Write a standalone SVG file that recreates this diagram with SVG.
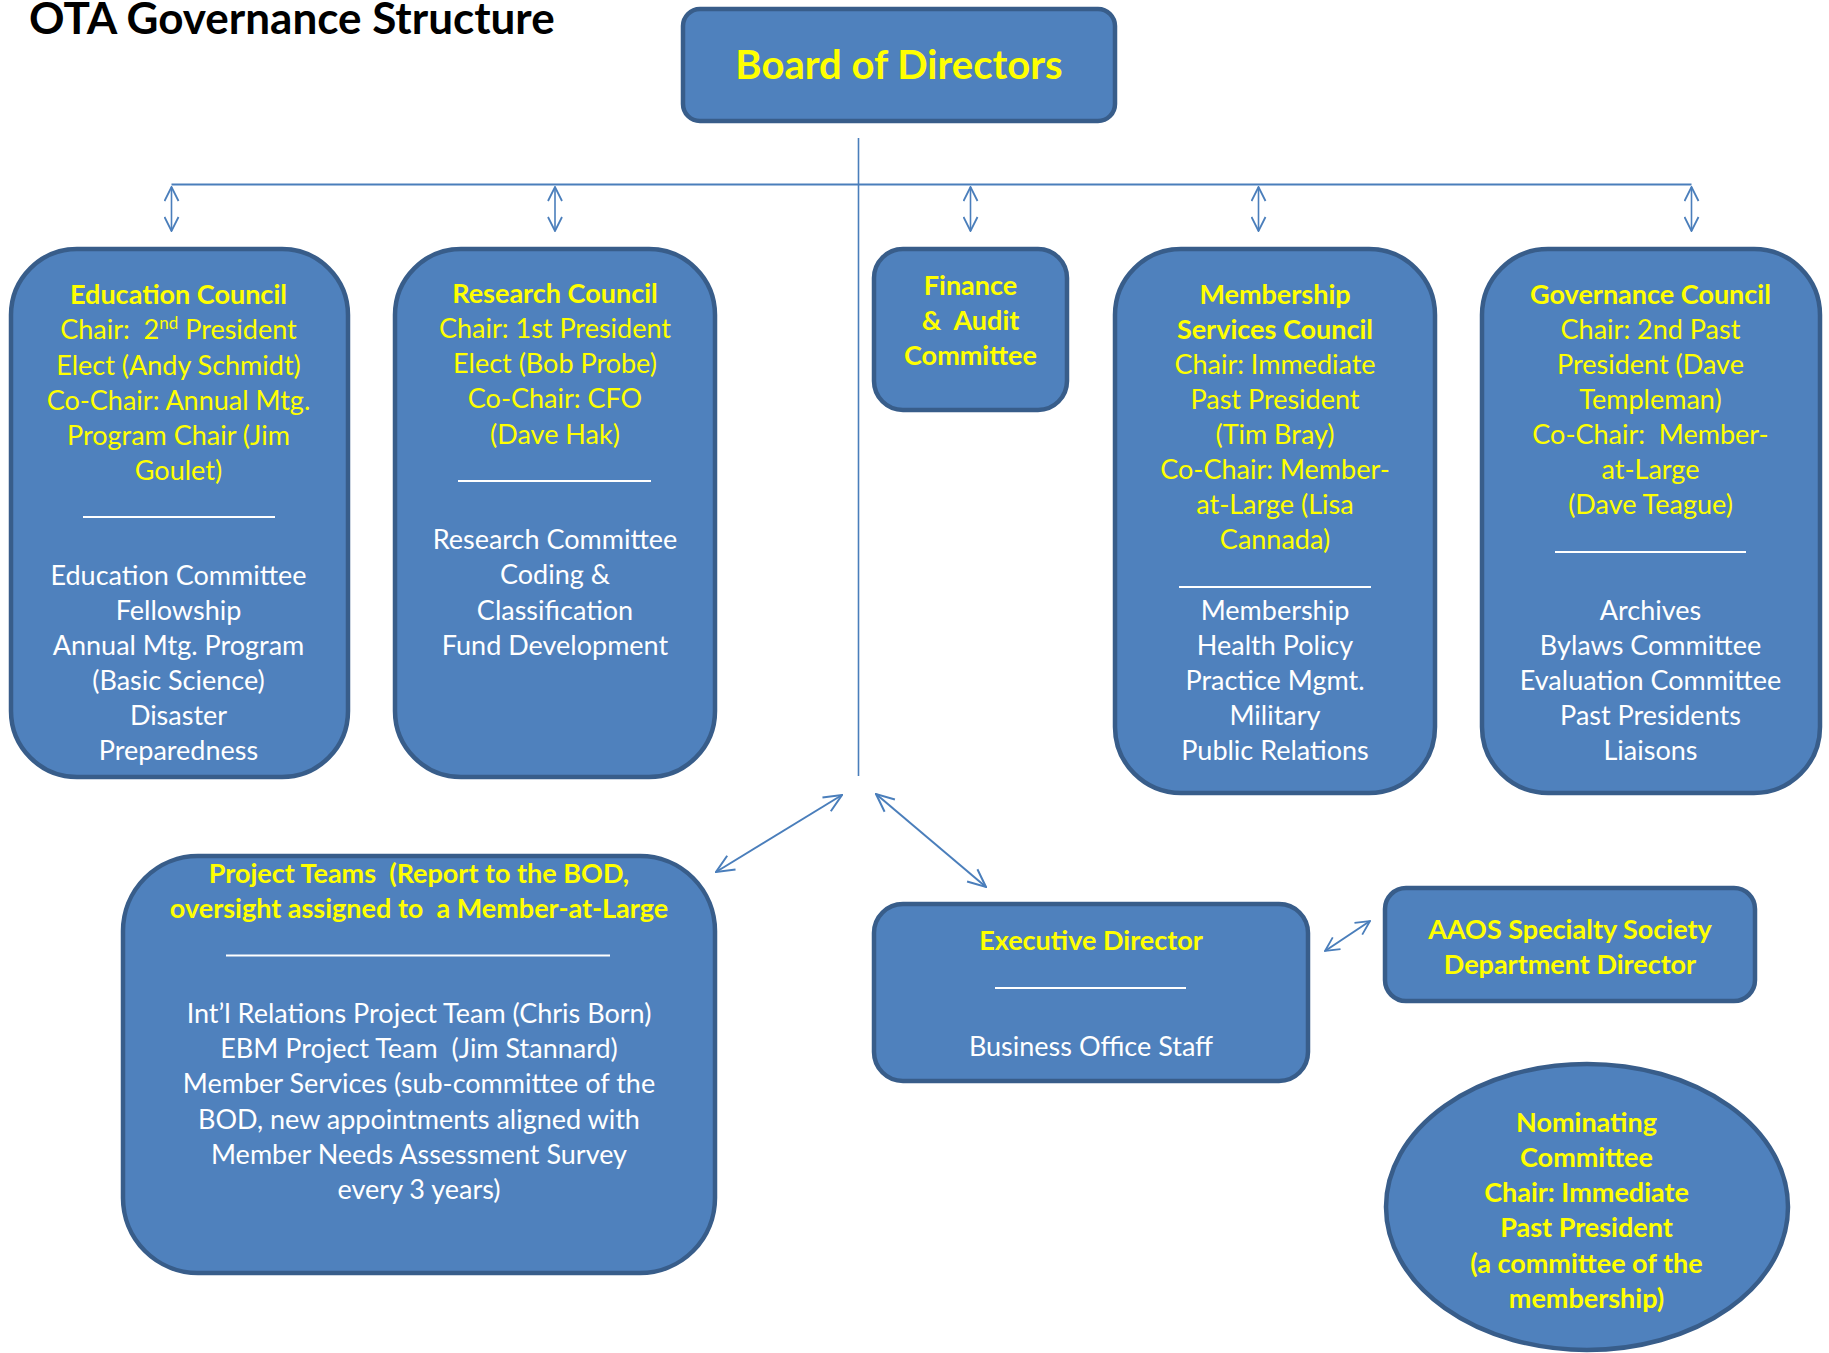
<svg xmlns="http://www.w3.org/2000/svg" width="1829" height="1353" viewBox="0 0 1829 1353">
<style>
.box{fill:#4F81BD;stroke:#385D8A;stroke-width:4.5}
.t{font-family:Lato,"Open Sans","Liberation Sans",sans-serif;font-size:27px;text-anchor:middle;white-space:pre}
.big{font-size:40px}
.yb{fill:#FFFF00;font-weight:bold}
.y{fill:#FFFF00}
.w{fill:#FFFFFF}
.div{stroke:#FFFFFF;stroke-width:2}
.con{stroke:#4A7EBB;fill:none}
</style>
<defs>
<marker id="ah" viewBox="0 0 16 16" refX="15" refY="8" markerWidth="16" markerHeight="16" markerUnits="userSpaceOnUse" orient="auto-start-reverse">
<path d="M1,1 L15,8 L1,15" fill="none" stroke="#4A7EBB" stroke-width="1.8"/>
</marker>
<marker id="ah2" viewBox="0 0 20 20" refX="19" refY="10" markerWidth="20" markerHeight="20" markerUnits="userSpaceOnUse" orient="auto-start-reverse">
<path d="M1,2 L19,10 L1,18" fill="none" stroke="#4A7EBB" stroke-width="2"/>
</marker>
</defs>
<rect width="1829" height="1353" fill="#FFFFFF"/>
<text x="29" y="34" font-family="Lato,'Open Sans','Liberation Sans',sans-serif" font-size="44" font-weight="bold" fill="#000000">OTA Governance Structure</text>

<g id="connectors">
<line class="con" x1="858.5" y1="138" x2="858.5" y2="776" stroke-width="1.6"/>
<line class="con" x1="171.5" y1="184.5" x2="1691.5" y2="184.5" stroke-width="2.2"/>
<line class="con" x1="171.5" y1="187" x2="171.5" y2="231" stroke-width="1.6" marker-start="url(#ah)" marker-end="url(#ah)"/>
<line class="con" x1="555" y1="187" x2="555" y2="231" stroke-width="1.6" marker-start="url(#ah)" marker-end="url(#ah)"/>
<line class="con" x1="970.5" y1="187" x2="970.5" y2="231" stroke-width="1.6" marker-start="url(#ah)" marker-end="url(#ah)"/>
<line class="con" x1="1258.5" y1="187" x2="1258.5" y2="231" stroke-width="1.6" marker-start="url(#ah)" marker-end="url(#ah)"/>
<line class="con" x1="1691.5" y1="187" x2="1691.5" y2="231" stroke-width="1.6" marker-start="url(#ah)" marker-end="url(#ah)"/>
<line class="con" x1="842" y1="795" x2="716" y2="872" stroke-width="2" marker-start="url(#ah2)" marker-end="url(#ah2)"/>
<line class="con" x1="876" y1="794" x2="986" y2="887" stroke-width="2" marker-start="url(#ah2)" marker-end="url(#ah2)"/>
<line class="con" x1="1325" y1="951" x2="1370" y2="921" stroke-width="2" marker-start="url(#ah)" marker-end="url(#ah)"/>
</g>

<g id="board">
<rect class="box" x="683" y="9" width="432" height="112" rx="17"/>
<text class="t yb big" x="899" y="79">Board of Directors</text>
</g>

<g id="education">
<rect class="box" x="11" y="249" width="337" height="528" rx="66"/>
<text class="t yb" x="178.5" y="304">Education Council</text>
<text class="t y" x="178.5" y="339">Chair:  2<tspan font-size="17" dy="-10">nd</tspan><tspan dy="10"> President</tspan></text>
<text class="t y" x="178.5" y="374.5">Elect (Andy Schmidt)</text>
<text class="t y" x="178.5" y="409.5">Co-Chair: Annual Mtg.</text>
<text class="t y" x="178.5" y="445">Program Chair (Jim</text>
<text class="t y" x="178.5" y="480">Goulet)</text>
<line class="div" x1="83" y1="517" x2="275" y2="517"/>
<text class="t w" x="178.5" y="585">Education Committee</text>
<text class="t w" x="178.5" y="620">Fellowship</text>
<text class="t w" x="178.5" y="655">Annual Mtg. Program</text>
<text class="t w" x="178.5" y="690">(Basic Science)</text>
<text class="t w" x="178.5" y="725">Disaster</text>
<text class="t w" x="178.5" y="760">Preparedness</text>
</g>

<g id="research">
<rect class="box" x="395" y="249" width="320" height="528" rx="66"/>
<text class="t yb" x="555" y="303">Research Council</text>
<text class="t y" x="555" y="338">Chair: 1st President</text>
<text class="t y" x="555" y="373">Elect (Bob Probe)</text>
<text class="t y" x="555" y="408">Co-Chair: CFO</text>
<text class="t y" x="555" y="444">(Dave Hak)</text>
<line class="div" x1="458" y1="481" x2="651" y2="481"/>
<text class="t w" x="555" y="549">Research Committee</text>
<text class="t w" x="555" y="584">Coding &amp;</text>
<text class="t w" x="555" y="620">Classification</text>
<text class="t w" x="555" y="655">Fund Development</text>
</g>

<g id="finance">
<rect class="box" x="874" y="249" width="193" height="161" rx="29"/>
<text class="t yb" x="970.5" y="295">Finance</text>
<text class="t yb" x="970.5" y="330">&amp;  Audit</text>
<text class="t yb" x="970.5" y="365">Committee</text>
</g>

<g id="membership">
<rect class="box" x="1115" y="249" width="320" height="544" rx="66"/>
<text class="t yb" x="1275" y="304">Membership</text>
<text class="t yb" x="1275" y="339">Services Council</text>
<text class="t y" x="1275" y="374">Chair: Immediate</text>
<text class="t y" x="1275" y="409">Past President</text>
<text class="t y" x="1275" y="444">(Tim Bray)</text>
<text class="t y" x="1275" y="479">Co-Chair: Member-</text>
<text class="t y" x="1275" y="514">at-Large (Lisa</text>
<text class="t y" x="1275" y="549">Cannada)</text>
<line class="div" x1="1179" y1="587" x2="1371" y2="587"/>
<text class="t w" x="1275" y="620">Membership</text>
<text class="t w" x="1275" y="655">Health Policy</text>
<text class="t w" x="1275" y="690">Practice Mgmt.</text>
<text class="t w" x="1275" y="725">Military</text>
<text class="t w" x="1275" y="760">Public Relations</text>
</g>

<g id="governance">
<rect class="box" x="1482" y="249" width="338" height="544" rx="66"/>
<text class="t yb" x="1650.5" y="304">Governance Council</text>
<text class="t y" x="1650.5" y="339">Chair: 2nd Past</text>
<text class="t y" x="1650.5" y="374">President (Dave</text>
<text class="t y" x="1650.5" y="409">Templeman)</text>
<text class="t y" x="1650.5" y="444">Co-Chair:  Member-</text>
<text class="t y" x="1650.5" y="479">at-Large</text>
<text class="t y" x="1650.5" y="514">(Dave Teague)</text>
<line class="div" x1="1555" y1="552" x2="1746" y2="552"/>
<text class="t w" x="1650.5" y="620">Archives</text>
<text class="t w" x="1650.5" y="655">Bylaws Committee</text>
<text class="t w" x="1650.5" y="690">Evaluation Committee</text>
<text class="t w" x="1650.5" y="725">Past Presidents</text>
<text class="t w" x="1650.5" y="760">Liaisons</text>
</g>

<g id="project-teams">
<rect class="box" x="123" y="856" width="592" height="417" rx="75"/>
<text class="t yb" x="419" y="882.5">Project Teams  (Report to the BOD,</text>
<text class="t yb" x="419" y="917.5">oversight assigned to  a Member-at-Large</text>
<line class="div" x1="226" y1="955.5" x2="610" y2="955.5"/>
<text class="t w" x="419" y="1022.5">Int’l Relations Project Team (Chris Born)</text>
<text class="t w" x="419" y="1057.5">EBM Project Team  (Jim Stannard)</text>
<text class="t w" x="419" y="1093">Member Services (sub-committee of the</text>
<text class="t w" x="419" y="1128.5">BOD, new appointments aligned with</text>
<text class="t w" x="419" y="1163.5">Member Needs Assessment Survey</text>
<text class="t w" x="419" y="1198.5">every 3 years)</text>
</g>

<g id="executive-director">
<rect class="box" x="874" y="904" width="434" height="177" rx="29"/>
<text class="t yb" x="1091" y="950">Executive Director</text>
<line class="div" x1="995" y1="988" x2="1186" y2="988"/>
<text class="t w" x="1091" y="1056">Business Office Staff</text>
</g>

<g id="aaos">
<rect class="box" x="1385" y="888" width="370" height="113" rx="21"/>
<text class="t yb" x="1570" y="938.5">AAOS Specialty Society</text>
<text class="t yb" x="1570" y="973.5">Department Director</text>
</g>

<g id="nominating">
<ellipse class="box" cx="1587" cy="1207" rx="201" ry="143"/>
<text class="t yb" x="1586.5" y="1132">Nominating</text>
<text class="t yb" x="1586.5" y="1167">Committee</text>
<text class="t yb" x="1586.5" y="1202">Chair: Immediate</text>
<text class="t yb" x="1586.5" y="1237">Past President</text>
<text class="t yb" x="1586.5" y="1273">(a committee of the</text>
<text class="t yb" x="1586.5" y="1308">membership)</text>
</g>
</svg>
